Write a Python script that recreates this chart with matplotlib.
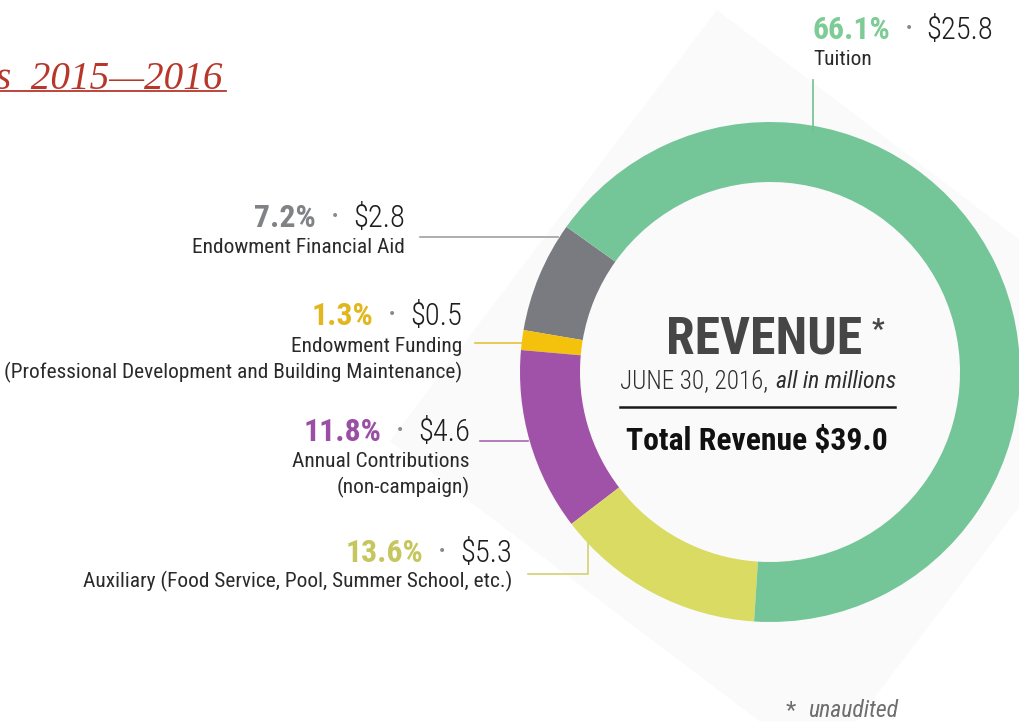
import matplotlib
matplotlib.use('Agg')
import matplotlib.pyplot as plt
from matplotlib import font_manager
from matplotlib.patches import Polygon

W, H = 1019, 721

# Данные: порядок против часовой стрелки, начиная с Endowment Financial Aid
labels = ['Endowment Financial Aid',
          'Endowment Funding\n(Professional Development and Building Maintenance)',
          'Annual Contributions\n(non-campaign)',
          'Auxiliary (Food Service, Pool, Summer School, etc.)',
          'Tuition']
amounts = [2.8, 0.5, 4.6, 5.3, 25.8]
percents = [7.2, 1.3, 11.8, 13.6, 66.1]
ring_colors = ['#797B80', '#F4C20D', '#A052A8', '#DADB63', '#74C698']
text_colors = ['#808285', '#E2B71E', '#9A4FA5', '#C6C65E', '#7ECC95']
line_colors = ['#A0A0A0', '#E6C13A', '#A866B0', '#D2D272', '#72C08F']

# Ищем узкий шрифт, если он есть
font_kw = dict(family=['Roboto', 'DejaVu Sans'])
entries = font_manager.fontManager.ttflist
for pref in ['Liberation Sans Narrow', 'Roboto Condensed', 'Open Sans',
             'Noto Sans', 'DejaVu Sans', 'Roboto']:
    found = [f for f in entries if f.name == pref and f.stretch in
             ('condensed', 'semi-condensed', 'extra-condensed')]
    if found:
        font_kw = dict(family=[pref, 'DejaVu Sans'], fontstretch=found[0].stretch)
        break

fig = plt.figure(figsize=(W / 100, H / 100), dpi=100)
ax = fig.add_axes([0, 0, 1, 1])

# бледный повернутый квадрат на фоне
bg = Polygon([(717, H - 10), (1148, H - 337), (821, H - 768), (390, H - 441)],
             closed=True, facecolor='#FAFAFA', edgecolor='none', zorder=0)
ax.add_patch(bg)

# кольцевая диаграмма
ax.pie(amounts, colors=ring_colors, startangle=144.5, counterclock=True,
       radius=250, center=(770, H - 372),
       wedgeprops=dict(width=60, edgecolor='none'))

ax.set_xlim(0, W)
ax.set_ylim(0, H)
ax.set_aspect('equal')
ax.axis('off')

renderer = fig.canvas.get_renderer()


def fit(text, target, **kw):
    # размер шрифта, при котором текст имеет нужную ширину в пикселях
    t = ax.text(0, 0, text, fontsize=20, **kw)
    w = t.get_window_extent(renderer).width
    t.remove()
    return 20 * target / w


fs_pct = fit('66.1%', 78, fontweight='bold', **font_kw)
fs_amt = fit('$25.8', 67, fontweight='light', **font_kw)
fs_name = fit('Endowment Financial Aid', 212, **font_kw)


def value_line(x, y, pct, amt, color, align='right'):
    if align == 'right':
        t = ax.text(x, H - y, f'${amt:.1f}', ha='right', va='baseline',
                    fontsize=fs_amt, fontweight='light', color='#1E1E1E', **font_kw)
        x0 = t.get_window_extent(renderer).x0
        ax.text(x0 - 18, H - y + 11, '•', ha='center', va='center',
                fontsize=10, color='#8A8A8A')
        ax.text(x0 - 37, H - y, f'{pct:.1f}%', ha='right', va='baseline',
                fontsize=fs_pct, color=color, fontweight='bold', **font_kw)
    else:
        t = ax.text(x, H - y, f'{pct:.1f}%', ha='left', va='baseline',
                    fontsize=fs_pct, color=color, fontweight='bold', **font_kw)
        x1 = t.get_window_extent(renderer).x1
        ax.text(x1 + 18, H - y + 11, '•', ha='center', va='center',
                fontsize=10, color='#8A8A8A')
        ax.text(x1 + 36, H - y, f'${amt:.1f}', ha='left', va='baseline',
                fontsize=fs_amt, fontweight='light', color='#1E1E1E', **font_kw)


def name_lines(x, y, text, align='right'):
    for i, line in enumerate(text.split('\n')):
        ax.text(x, H - (y + i * 26), line, ha=align, va='baseline',
                fontsize=fs_name, color='#2A2A2A', **font_kw)


# подписи: (x, базовая линия процента, базовая линия названия)
label_pos = [(405, 227, 253), (462, 325, 352), (470, 441, 467),
             (512, 562, 587), (813, 39, 65)]
for i in range(len(amounts)):
    x, yv, yn = label_pos[i]
    align = 'left' if i == 4 else 'right'
    value_line(x, yv, percents[i], amounts[i], text_colors[i], align)
    name_lines(x, yn, labels[i], align)

# выносные линии
ax.plot([420, 558], [H - 237, H - 237], color=line_colors[0], lw=1.2)
ax.plot([475, 522], [H - 343, H - 343], color=line_colors[1], lw=1.2)
ax.plot([480, 528], [H - 441, H - 441], color=line_colors[2], lw=1.2)
ax.plot([528, 588, 588], [H - 574, H - 574, H - 543], color=line_colors[3], lw=1.2)
ax.plot([813, 813], [H - 80, H - 132], color=line_colors[4], lw=1.2)

# центр
fs_rev = fit('REVENUE', 196, fontweight='bold', **font_kw)
ax.text(764, H - 353, 'REVENUE', ha='center', va='baseline', fontsize=fs_rev,
        fontweight='bold', color='#464646', **font_kw)
ax.text(878, H - 338, '*', ha='center', va='baseline', fontsize=20,
        fontweight='bold', color='#464646', **font_kw)
fs_june = fit('JUNE 30, 2016,', 148, fontweight='light', **font_kw)
t = ax.text(620, H - 388, 'JUNE 30, 2016,', ha='left', va='baseline',
            fontsize=fs_june, fontweight='light', color='#2E2E2E', **font_kw)
x1 = t.get_window_extent(renderer).x1
fs_mil = fit('all in millions', 120, style='italic', **font_kw)
ax.text(x1 + 8, H - 388, 'all in millions', ha='left', va='baseline',
        fontsize=fs_mil, style='italic', color='#2E2E2E', **font_kw)
ax.plot([620, 895], [H - 407, H - 407], color='#1A1A1A', lw=1.8)
total_txt = f'Total Revenue ${sum(amounts):.1f}'
fs_tot = fit(total_txt, 261, fontweight='bold', **font_kw)
ax.text(757, H - 450, total_txt, ha='center', va='baseline', fontsize=fs_tot,
        fontweight='bold', color='#111111', **font_kw)

fs_un = fit('unaudited', 90, style='italic', **font_kw)
ax.text(786, H - 717, '*', ha='left', va='baseline', fontsize=fs_un,
        color='#6E6E6E', **font_kw)
ax.text(808, H - 717, 'unaudited', ha='left', va='baseline', fontsize=fs_un,
        style='italic', color='#6E6E6E', **font_kw)

# рукописный заголовок
hand = dict(family=['Liberation Serif', 'DejaVu Serif'], style='italic')
fs_hand = fit('s  2015—2016', 226, **hand)
ax.text(-4, H - 89, 's  2015—2016', ha='left', va='baseline', fontsize=fs_hand,
        color='#B8372B', **hand)
ax.plot([0, 226], [H - 91, H - 91], color='#B8372B', lw=1.3)

fig.savefig('out.png', dpi=100)
